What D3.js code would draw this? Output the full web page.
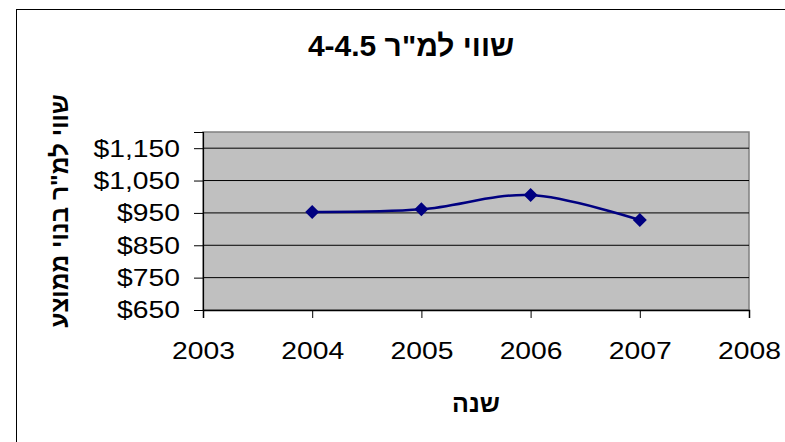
<!DOCTYPE html>
<html>
<head>
<meta charset="utf-8">
<script src="https://cdn.jsdelivr.net/npm/d3@7/dist/d3.min.js"></script>
<style>
  html, body { margin: 0; padding: 0; background: #fff; }
  svg { display: block; }
  text { font-family: "Liberation Sans", Arial, sans-serif; }
</style>
</head>
<body>
<svg id="chart" width="785" height="442"></svg>
<script>
// ---- data ----
const years = [2004, 2005, 2006, 2007];
const values = [953, 961, 1005, 928];
const xTicks = [2003, 2004, 2005, 2006, 2007, 2008];
const yTicks = [650, 750, 850, 950, 1050, 1150];
const titleText = 'שווי למ"ר 4-4.5';
const yLabelText = 'שווי למ"ר בנוי ממוצע';
const xLabelText = 'שנה';

// ---- layout ----
const W = 785, H = 442;
const plot = { left: 203, right: 749, top: 132, bottom: 310 };
const tickFont = 24.5, sx = 1.155;

const svg = d3.select('#chart');

// chart area frame (left and top visible)
svg.append('line').attr('x1', 16.5).attr('y1', 9.5).attr('x2', 16.5).attr('y2', H)
  .attr('stroke', '#000').attr('stroke-width', 1);
svg.append('line').attr('x1', 16).attr('y1', 9.5).attr('x2', W).attr('y2', 9.5)
  .attr('stroke', '#000').attr('stroke-width', 1);

const x = d3.scaleLinear().domain([2003, 2008]).range([plot.left, plot.right]);
const y = d3.scaleLinear().domain([650, 1200]).range([plot.bottom, plot.top]);

// plot background
svg.append('rect')
  .attr('x', plot.left).attr('y', plot.top)
  .attr('width', plot.right - plot.left).attr('height', plot.bottom - plot.top)
  .attr('fill', '#C0C0C0').attr('stroke', '#808080').attr('stroke-width', 1.5);

// gridlines
svg.append('g').selectAll('line')
  .data(yTicks.filter(v => v > 650))
  .join('line')
  .attr('x1', plot.left).attr('x2', plot.right)
  .attr('y1', d => y(d)).attr('y2', d => y(d))
  .attr('stroke', '#000').attr('stroke-width', 1);

// y axis
const yAxis = svg.append('g')
  .attr('transform', `translate(${plot.left},0)`)
  .call(d3.axisLeft(y).tickValues(yTicks).tickSize(9).tickPadding(14)
    .tickFormat(d => '$' + d3.format(',')(d)));
yAxis.select('.domain').attr('stroke', '#000').attr('stroke-width', 1.2);
yAxis.selectAll('.tick line').attr('stroke', '#000').attr('stroke-width', 1);
yAxis.selectAll('.tick text')
  .attr('font-size', tickFont).attr('fill', '#000')
  .attr('font-family', '"Liberation Sans", Arial, sans-serif')
  .attr('x', -23 / sx)
  .attr('transform', `scale(${sx},1)`);

// x axis
const xAxis = svg.append('g')
  .attr('transform', `translate(0,${plot.bottom})`)
  .call(d3.axisBottom(x).tickValues(xTicks).tickSize(8).tickFormat(d3.format('d')));
xAxis.select('.domain').attr('stroke', '#000').attr('stroke-width', 1.5);
xAxis.selectAll('.tick line').attr('stroke', '#000').attr('stroke-width', 1);
xAxis.selectAll('.tick text')
  .attr('font-size', tickFont).attr('fill', '#000')
  .attr('font-family', '"Liberation Sans", Arial, sans-serif')
  .attr('y', 31.5).attr('dy', '0.71em')
  .attr('transform', `scale(${sx},1)`);

// line
const pts = years.map((yr, i) => [x(yr), y(values[i])]);
svg.append('path')
  .attr('d', d3.line().curve(d3.curveCardinal.tension(0))(pts))
  .attr('fill', 'none').attr('stroke', '#000080').attr('stroke-width', 2.5);

// markers
svg.append('g').selectAll('path')
  .data(pts)
  .join('path')
  .attr('transform', d => `translate(${d[0]},${d[1]})`)
  .attr('d', 'M0,-7L7,0L0,7L-7,0Z')
  .attr('fill', '#000080');

// title
svg.append('text')
  .attr('x', 411).attr('y', 44.7)
  .attr('dy', '0.36em')
  .attr('text-anchor', 'middle')
  .attr('direction', 'rtl')
  .attr('font-size', 30).attr('font-weight', 'bold')
  .text(titleText);

// y label
svg.append('text')
  .attr('transform', `translate(59,211) rotate(-90)`)
  .attr('dy', '0.36em')
  .attr('text-anchor', 'middle')
  .attr('direction', 'rtl')
  .attr('font-size', 24.5).attr('font-weight', 'bold')
  .text(yLabelText);

// x label
svg.append('text')
  .attr('x', (plot.left + plot.right) / 2).attr('y', 402.5)
  .attr('dy', '0.36em')
  .attr('text-anchor', 'middle')
  .attr('direction', 'rtl')
  .attr('font-size', 25).attr('font-weight', 'bold')
  .text(xLabelText);
</script>
</body>
</html>
